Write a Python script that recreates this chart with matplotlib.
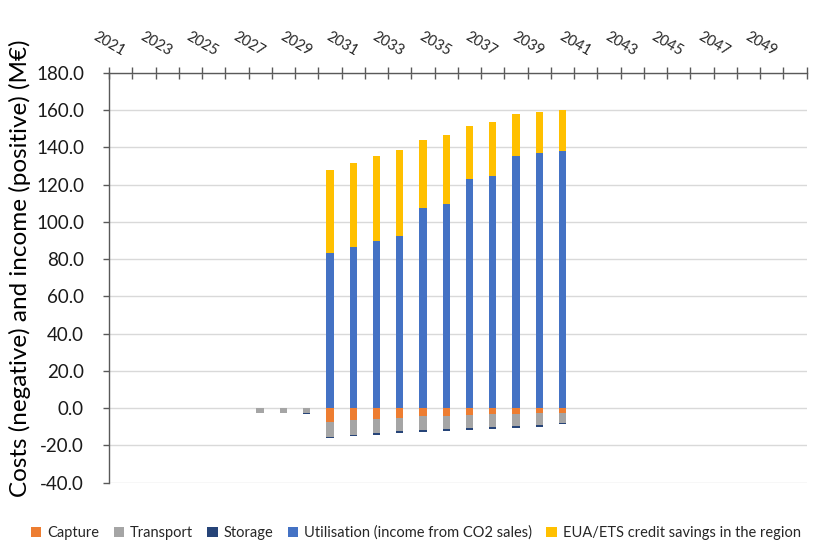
import matplotlib
matplotlib.use("Agg")
import matplotlib.pyplot as plt
import matplotlib.transforms as mtransforms
from matplotlib.patches import Patch
import numpy as np

plt.rcParams['font.family'] = ['Lato', 'DejaVu Sans']

years = list(range(2021, 2051))
active_years = list(range(2027, 2041))

# Costs (negative) and income (positive), M€, for 2027–2040
capture = [0, 0, 0, -7.4, -6.5, -5.8, -5.3, -4.4, -4.2, -3.7, -3.4, -3.0, -2.5, -2.4]
transport = [-2.8, -2.8, -2.6, -8.0, -7.8, -7.3, -7.0, -7.2, -6.9, -6.9, -6.6, -6.4, -6.3, -5.8]
storage = [0, 0, -0.8, -0.8, -0.9, -1.3, -1.2, -1.2, -1.0, -1.3, -1.3, -1.4, -1.2, -0.3]
utilisation = [0, 0, 0, 83.3, 86.5, 89.6, 92.2, 107.4, 109.8, 122.7, 124.6, 135.2, 136.9, 138.2]
eua_savings = [0, 0, 0, 44.4, 45.3, 45.6, 46.2, 36.5, 36.6, 28.7, 28.7, 22.5, 22.0, 22.0]

labels = ["Capture", "Transport", "Storage",
          "Utilisation (income from CO2 sales)",
          "EUA/ETS credit savings in the region"]
colors = ["#ED7D31", "#A5A5A5", "#264478", "#4472C4", "#FFC000"]

fig = plt.figure(figsize=(8.18, 5.42), dpi=100)
ax = fig.add_axes([0.1333, 0.1094, 0.8529, 0.7565])

x = np.array([years.index(y) for y in active_years], dtype=float)
w = 0.32

# negative stack: capture, then transport, then storage
neg_bottom = np.zeros(len(x))
for vals, col in zip([capture, transport, storage], colors[:3]):
    v = np.array(vals)
    ax.bar(x, v, w, bottom=neg_bottom, color=col, zorder=3, linewidth=0)
    neg_bottom = neg_bottom + v

# positive stack: utilisation, then EUA/ETS savings
pos_bottom = np.zeros(len(x))
for vals, col in zip([utilisation, eua_savings], colors[3:]):
    v = np.array(vals)
    ax.bar(x, v, w, bottom=pos_bottom, color=col, zorder=3, linewidth=0)
    pos_bottom = pos_bottom + v

ax.set_xlim(-0.5, len(years) - 0.5)
ax.set_ylim(-40, 180)
ax.set_yticks(np.arange(-40, 181, 20))
ax.set_yticklabels([f"{v:.1f}" for v in np.arange(-40, 181, 20)], fontsize=13.5, color="#1a1a1a")
ax.yaxis.grid(True, color="#d9d9d9", linewidth=1.0, zorder=0)
ax.set_axisbelow(True)

# category axis along the top edge
ax.xaxis.tick_top()
ax.set_xticks(np.arange(-0.5, len(years), 1.0))
ax.set_xticklabels([])
ax.tick_params(axis='x', direction='inout', length=9, width=1, color="#595959")
ax.tick_params(axis='y', direction='out', length=4, width=1, color="#595959", pad=14)

for s in ["bottom", "right"]:
    ax.spines[s].set_visible(False)
for s in ["top", "left"]:
    ax.spines[s].set_color("#595959")
    ax.spines[s].set_linewidth(1.0)

offset = mtransforms.ScaledTranslation(0, 14 / 100, fig.dpi_scale_trans)
trans = ax.get_xaxis_transform() + offset
for i, yr in enumerate(years):
    if yr % 2 == 1:
        ax.text(i, 1.0, str(yr), transform=trans, rotation=-30,
                rotation_mode='anchor', ha='right', va='bottom',
                fontsize=10.5, color="#262626")

fig.text(0.025, 0.505, "Costs (negative) and income (positive) (M€)",
         rotation=90, ha='center', va='center', fontsize=17.5, color="#000000")

handles = [Patch(facecolor=c, edgecolor='none') for c in colors]
fig.legend(handles, labels, loc='lower left', bbox_to_anchor=(0.022, -0.02),
           ncol=5, frameon=False, fontsize=10.5, handlelength=0.7, handleheight=0.7,
           handletextpad=0.4, columnspacing=1.0, labelcolor="#262626")

fig.savefig("out.png", dpi=100)
